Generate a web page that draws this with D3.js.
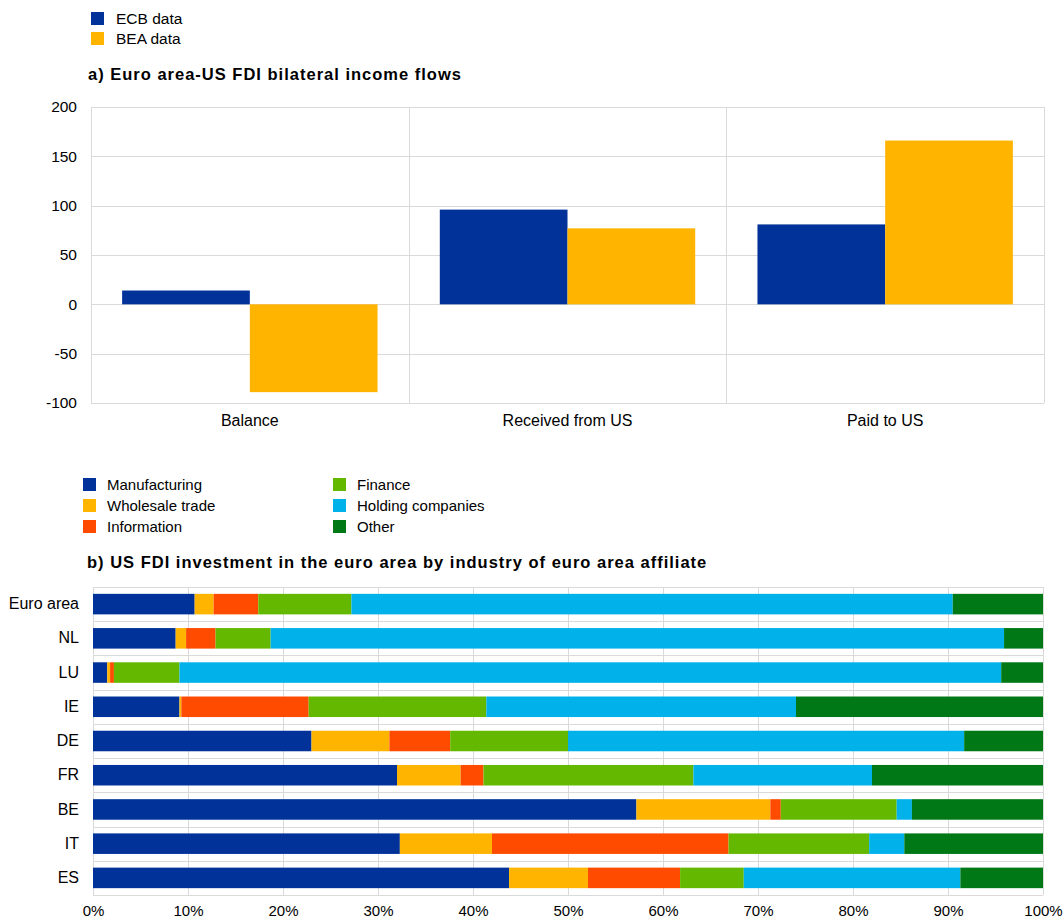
<!DOCTYPE html>
<html>
<head>
<meta charset="utf-8">
<script src="https://cdn.jsdelivr.net/npm/d3@7"></script>
<style>
  html, body { margin: 0; padding: 0; background: #fff; }
  svg text { font-family: "Liberation Sans", Arial, sans-serif; fill: #000; }
</style>
</head>
<body>
<svg id="chart" width="1064" height="919"></svg>
<script>
// ---- Panel a: bilateral income flows (EUR billions) ----
const flowCategories = ["Balance", "Received from US", "Paid to US"];
const flowSeries = ["ECB data", "BEA data"];
const ecbValues = [14, 96, 81];
const beaValues = [-89, 77, 166];
const flowTicks = [-100, -50, 0, 50, 100, 150, 200];

// ---- Panel b: US FDI position by industry (% shares) ----
const countries = ["Euro area", "NL", "LU", "IE", "DE", "FR", "BE", "IT", "ES"];
const industries = ["Manufacturing", "Wholesale trade", "Information", "Finance", "Holding companies", "Other"];
const manufacturing = [10.7, 8.7, 1.5, 9.1, 23.0, 32.0, 57.2, 32.3, 43.8];
const wholesale     = [2.0, 1.1, 0.3, 0.2, 8.2, 6.7, 14.1, 9.7, 8.3];
const information   = [4.7, 3.1, 0.4, 13.4, 6.4, 2.4, 1.1, 24.9, 9.7];
const finance       = [9.8, 5.8, 6.9, 18.7, 12.4, 22.1, 12.2, 14.8, 6.7];
const holding       = [63.3, 77.2, 86.5, 32.6, 41.7, 18.8, 1.6, 3.7, 22.8];
const other         = [9.5, 4.1, 4.4, 26.0, 8.3, 18.0, 13.8, 14.6, 8.7];
const pctTicks = [0, 10, 20, 30, 40, 50, 60, 70, 80, 90, 100];

const seriesColors = ["#003299", "#FFB400"];
const industryColors = ["#003299", "#FFB400", "#FF4B00", "#65B800", "#00B1EA", "#007816"];
const gridColor = "#dadada";
const FONT = "Liberation Sans, Arial, sans-serif";

const svg = d3.select("#chart");

function styleAxis(g, size) {
  g.select(".domain").remove();
  g.selectAll("text").style("font-size", size).style("font-family", FONT).attr("fill", "#000");
}

function panelTitle(x, y, text) {
  svg.append("text").attr("x", x).attr("y", y)
    .style("font-size", "16.5px").style("font-weight", "bold").style("letter-spacing", "1px")
    .text(text);
}

// ---------- Panel a ----------
const legendA = svg.append("g");
flowSeries.forEach((name, i) => {
  const g = legendA.append("g").attr("transform", `translate(91,${12 + i * 20})`);
  g.append("rect").attr("width", 13).attr("height", 13).attr("fill", seriesColors[i]);
  g.append("text").attr("x", 25).attr("y", 11.5).style("font-size", "15.5px").text(name);
});

panelTitle(88, 80, "a) Euro area-US FDI bilateral income flows");

const a = { left: 91, right: 1044, top: 107, bottom: 403 };
const yA = d3.scaleLinear().domain([-100, 200]).range([a.bottom, a.top]);
const x0 = d3.scaleBand().domain(flowCategories).range([a.left, a.right]);
const x1 = d3.scaleBand().domain(flowSeries)
  .range([x0.bandwidth() * 0.098, x0.bandwidth() * 0.902]);

const gA = svg.append("g");
// horizontal gridlines
gA.selectAll("line.h").data(flowTicks).join("line")
  .attr("x1", a.left).attr("x2", a.right)
  .attr("y1", d => Math.round(yA(d)) + 0.5).attr("y2", d => Math.round(yA(d)) + 0.5)
  .attr("stroke", gridColor).attr("stroke-width", 1);
// vertical separators between categories
const seps = flowCategories.map(c => x0(c)).concat([a.right]);
gA.selectAll("line.v").data(seps).join("line")
  .attr("x1", d => Math.round(d) + 0.5).attr("x2", d => Math.round(d) + 0.5)
  .attr("y1", a.top).attr("y2", a.bottom)
  .attr("stroke", gridColor).attr("stroke-width", 1);

const flowRows = flowCategories.map((c, i) => ({ cat: c, vals: [ecbValues[i], beaValues[i]] }));
gA.selectAll("g.grp").data(flowRows).join("g")
  .attr("transform", d => `translate(${x0(d.cat)},0)`)
  .selectAll("rect").data(d => d.vals.map((v, j) => ({ s: flowSeries[j], v, j })))
  .join("rect")
  .attr("x", d => x1(d.s)).attr("width", x1.bandwidth())
  .attr("y", d => yA(Math.max(0, d.v)))
  .attr("height", d => Math.abs(yA(d.v) - yA(0)))
  .attr("fill", d => seriesColors[d.j]);

// axis labels (plain hyphen for negatives)
const yAxisA = d3.axisLeft(yA).tickValues(flowTicks).tickFormat(d => String(d)).tickSize(0).tickPadding(0);
svg.append("g").attr("transform", "translate(77,0)").call(yAxisA).call(g => styleAxis(g, "15.5px"));

const xAxisA = d3.axisBottom(x0).tickSize(0).tickPadding(0);
svg.append("g").attr("transform", `translate(0,${a.bottom + 12})`).call(xAxisA).call(g => styleAxis(g, "16px"));

// ---------- Panel b ----------
const legendB = svg.append("g");
industries.forEach((name, i) => {
  const col = Math.floor(i / 3), row = i % 3;
  const g = legendB.append("g").attr("transform", `translate(${83 + col * 250},${478 + row * 21})`);
  g.append("rect").attr("width", 13).attr("height", 13).attr("fill", industryColors[i]);
  g.append("text").attr("x", 24).attr("y", 11.5).style("font-size", "15px").text(name);
});

panelTitle(87, 568, "b) US FDI investment in the euro area by industry of euro area affiliate");

const b = { left: 93, right: 1043, top: 587, bottom: 895 };
const xB = d3.scaleLinear().domain([0, 100]).range([b.left, b.right]);
const yB = d3.scaleBand().domain(countries).range([b.top, b.bottom]).paddingInner(0.4).paddingOuter(0.2);
const step = yB.step();

const gB = svg.append("g");
gB.selectAll("line.v").data(pctTicks).join("line")
  .attr("x1", d => Math.round(xB(d)) + 0.5).attr("x2", d => Math.round(xB(d)) + 0.5)
  .attr("y1", b.top).attr("y2", b.bottom)
  .attr("stroke", gridColor);
const rowEdges = d3.range(countries.length + 1).map(i => b.top + i * step);
gB.selectAll("line.h").data(rowEdges).join("line")
  .attr("x1", b.left).attr("x2", b.right)
  .attr("y1", d => Math.round(d) + 0.5).attr("y2", d => Math.round(d) + 0.5)
  .attr("stroke", gridColor);

const shares = [manufacturing, wholesale, information, finance, holding, other];
const table = countries.map((c, i) => {
  const row = { country: c };
  industries.forEach((ind, k) => { row[ind] = shares[k][i]; });
  return row;
});
const stacked = d3.stack().keys(industries)(table);

gB.selectAll("g.layer").data(stacked).join("g")
  .attr("fill", (d, i) => industryColors[i])
  .selectAll("rect").data(d => d).join("rect")
  .attr("x", d => xB(d[0]))
  .attr("width", d => Math.max(0, xB(d[1]) - xB(d[0])))
  .attr("y", d => yB(d.data.country))
  .attr("height", yB.bandwidth());

const yAxisB = d3.axisLeft(yB).tickSize(0).tickPadding(0);
svg.append("g").attr("transform", "translate(79,0)").call(yAxisB).call(g => styleAxis(g, "16px"));

const xAxisB = d3.axisBottom(xB).tickValues(pctTicks).tickFormat(d => d + "%").tickSize(0).tickPadding(0);
svg.append("g").attr("transform", `translate(0,${b.bottom + 10})`).call(xAxisB).call(g => styleAxis(g, "15px"));
</script>
</body>
</html>
